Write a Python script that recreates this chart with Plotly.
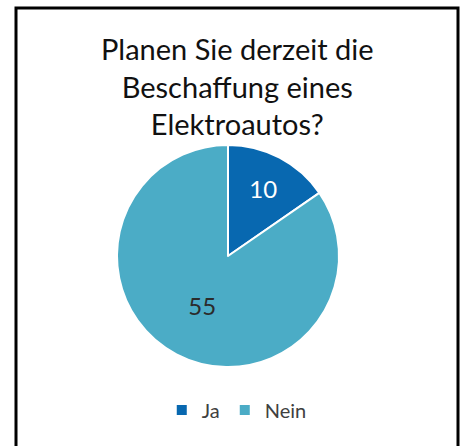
import plotly.graph_objects as go

# Umfrage: Planen Sie derzeit die Beschaffung eines Elektroautos?
labels = ["Ja", "Nein"]
values = [10, 55]
colours = ["#0868B0", "#4BACC6"]
label_font_colours = ["white", "#2b2b2b"]

title_text = "Planen Sie derzeit die<br>Beschaffung eines<br>Elektroautos?"

W, H = 467, 446
cx, cy, r = 228, 256, 111

fig = go.Figure(go.Pie(
    labels=labels,
    values=values,
    sort=False,
    direction="clockwise",
    rotation=0,
    marker=dict(colors=colours, line=dict(color="white", width=2)),
    textinfo="value",
    textposition="inside",
    insidetextorientation="horizontal",
    textfont=dict(size=24, color=label_font_colours, family="Lato"),
    domain=dict(x=[(cx - r) / W, (cx + r) / W],
                y=[1 - (cy + r) / H, 1 - (cy - r) / H]),
    hoverinfo="label+value",
))

fig.update_layout(
    width=W, height=H,
    margin=dict(l=0, r=0, t=0, b=0),
    paper_bgcolor="white",
    font=dict(family="Lato", color="#404040"),
    showlegend=True,
    legend=dict(orientation="h", x=0.507, xanchor="center", y=1 - 410 / H, yanchor="middle",
                font=dict(size=20, color="#404040"), itemwidth=30),
    annotations=[dict(
        text=title_text, x=238 / W, y=1 - 86 / H, xref="paper", yref="paper",
        xanchor="center", yanchor="middle", showarrow=False,
        font=dict(size=29, color="#111111", family="Lato"),
    )],
    shapes=[dict(type="rect", xref="paper", yref="paper",
                 x0=16 / W, x1=458 / W, y0=-0.05, y1=1 - 8 / H,
                 line=dict(color="black", width=3))],
)

# page body margin would shift the figure by 8px
fig.write_html("out.html", config={"displayModeBar": False},
               post_script="document.body.style.margin='0';")
